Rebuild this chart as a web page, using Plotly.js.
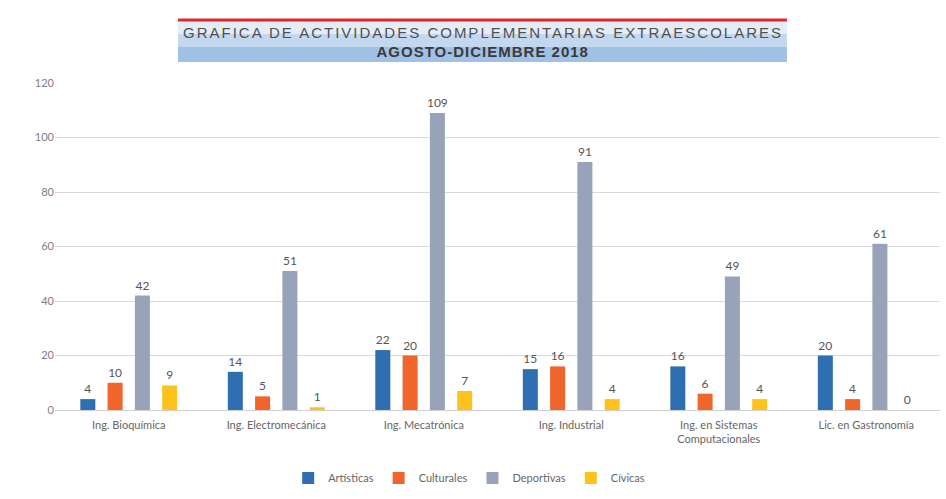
<!DOCTYPE html>
<html>
<head>
<meta charset="utf-8">
<script src="https://cdn.plot.ly/plotly-3.0.1.min.js"></script>
<style>
  html, body { margin: 0; padding: 0; background: #ffffff; }
  #grafico { width: 946px; height: 499px; }
  /* titulo espaciado como en el original */
  #grafico .annotation-text { letter-spacing: 2px; }
  #grafico .annotation[data-index="1"] .annotation-text { letter-spacing: 1px; }
</style>
</head>
<body>
<div id="grafico"></div>
<script>
// Carreras (eje horizontal)
let carreras = ["Ing. Bioquímica", "Ing. Electromecánica", "Ing. Mecatrónica", "Ing. Industrial",
  "Ing. en Sistemas<br>Computacionales", "Lic. en Gastronomía"]

// Actividades por carrera
let artisticas = [4, 14, 22, 15, 16, 20]
let culturales = [10, 5, 20, 16, 6, 4]
let deportivas = [42, 51, 109, 91, 49, 61]
let civicas = [9, 1, 7, 4, 4, 0]

let nombres = ["Artísticas", "Culturales", "Deportivas", "Cívicas"]
let colores = ["#2f6eb0", "#f0652c", "#98a3b9", "#fdc21c"]
let series = [artisticas, culturales, deportivas, civicas]

let data = []
for (let i = 0; i < series.length; i++) {
  data.push({
    x: carreras,
    y: series[i],
    type: 'bar',
    name: nombres[i],
    marker: {color: colores[i]},
    text: series[i].map(String),
    textposition: 'outside',
    constraintext: 'none',
    cliponaxis: false,
    textfont: {family: "Lato, 'Open Sans', sans-serif", size: 12, color: '#555555'}
  })
}

let layout = {
  width: 946,
  height: 499,
  paper_bgcolor: '#ffffff',
  plot_bgcolor: '#ffffff',
  margin: {l: 55, r: 6, t: 83, b: 89},
  barmode: 'group',
  bargap: 0.26,
  bargroupgap: 0.45,
  font: {family: "Lato, 'Open Sans', sans-serif", size: 11, color: '#666666'},
  showlegend: true,
  legend: {
    orientation: 'h', x: 0.468, xanchor: 'center', y: -0.208, yanchor: 'middle',
    font: {size: 11, color: '#666666'}, itemwidth: 30, traceorder: 'normal'
  },
  xaxis: {
    showline: false, ticks: '', ticklabelstandoff: 7, tickfont: {size: 11, color: '#666666'}
  },
  yaxis: {
    range: [0, 120], dtick: 20, showgrid: true, gridcolor: '#d9d9d9',
    zeroline: true, zerolinecolor: '#d0d0d0', ticks: '', ticklen: 0,
    tickfont: {size: 11, color: '#808080'}
  },
  shapes: [
    // recuadro del titulo
    {type: 'rect', xref: 'paper', yref: 'paper', x0: 0.139, x1: 0.827, y0: 1.064, y1: 1.19,
      fillcolor: '#e4ecf5', line: {width: 0}, layer: 'below'},
    {type: 'rect', xref: 'paper', yref: 'paper', x0: 0.139, x1: 0.827, y0: 1.064, y1: 1.15,
      fillcolor: '#c3d8ee', line: {width: 0}, layer: 'below'},
    {type: 'rect', xref: 'paper', yref: 'paper', x0: 0.139, x1: 0.827, y0: 1.064, y1: 1.11,
      fillcolor: '#9fc1e6', line: {width: 0}, layer: 'below'},
    {type: 'line', xref: 'paper', yref: 'paper', x0: 0.139, x1: 0.827, y0: 1.193, y1: 1.193,
      line: {color: '#e0282c', width: 3}}
  ],
  annotations: [
    {text: 'GRAFICA DE ACTIVIDADES COMPLEMENTARIAS EXTRAESCOLARES', xref: 'paper', yref: 'paper',
      x: 0.4835, y: 1.153, showarrow: false, xanchor: 'center', yanchor: 'middle',
      font: {family: "'Liberation Sans', Arial, sans-serif", size: 15, color: '#505050'}},
    {text: '<b>AGOSTO-DICIEMBRE 2018</b>', xref: 'paper', yref: 'paper',
      x: 0.4835, y: 1.095, showarrow: false, xanchor: 'center', yanchor: 'middle',
      font: {family: "'Liberation Sans', Arial, sans-serif", size: 15, color: '#3a3a3a'}}
  ]
}

Plotly.newPlot('grafico', data, layout, {displayModeBar: false, staticPlot: true})
</script>
</body>
</html>
